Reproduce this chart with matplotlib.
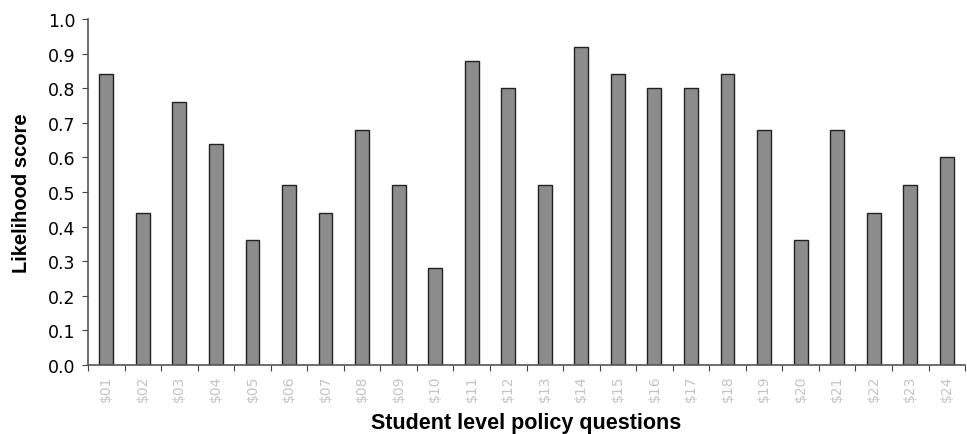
import matplotlib.pyplot as plt
import numpy as np

questions = ['$01', '$02', '$03', '$04', '$05', '$06', '$07', '$08', '$09', '$10', '$11', '$12',
             '$13', '$14', '$15', '$16', '$17', '$18', '$19', '$20', '$21', '$22', '$23', '$24']
scores = [0.84, 0.44, 0.76, 0.64, 0.36, 0.52, 0.44, 0.68, 0.52, 0.28, 0.88, 0.80,
          0.52, 0.92, 0.84, 0.80, 0.80, 0.84, 0.68, 0.36, 0.68, 0.44, 0.52, 0.60]
yticks = [0.0, 0.1, 0.2, 0.3, 0.4, 0.5, 0.6, 0.7, 0.8, 0.9, 1.0]

fig = plt.figure(figsize=(9.67, 4.35), dpi=100)
ax = fig.add_axes([0.091, 0.159, 0.907, 0.795])

x = np.arange(len(questions))
ax.bar(x, scores, width=0.38, color='#8c8c8c', edgecolor='#222222', linewidth=1.0)

ax.set_xlim(-0.5, len(questions) - 0.5)
ax.set_ylim(0, 1.0)
ax.set_yticks(yticks)
ax.set_yticklabels([f'{v:.1f}' for v in yticks], fontsize=12.5, family='DejaVu Sans')

# category ticks sit between bars, labels at bar centres
ax.set_xticks(np.arange(-0.5, len(questions)), minor=False)
ax.set_xticklabels([])
ax.set_xticks(x, minor=True)
ax.set_xticklabels(questions, minor=True, rotation=90, fontsize=10, color='#c4c4c4')
ax.tick_params(axis='x', which='minor', length=0, pad=7)
ax.tick_params(axis='x', which='major', length=4, direction='out', color='#444444')
ax.tick_params(axis='y', length=4, direction='out', color='#444444', pad=5)

for s in ['top', 'right']:
    ax.spines[s].set_visible(False)
for s in ['left', 'bottom']:
    ax.spines[s].set_color('#555555')
    ax.spines[s].set_linewidth(1.2)

ax.set_ylabel('Likelihood score', fontsize=14.5, fontweight='bold', family='Liberation Sans', labelpad=12)
fig.text(0.544, 0.014, 'Student level policy questions', fontsize=15.5, fontweight='bold',
         family='Liberation Sans', ha='center', va='baseline')

fig.savefig('out.png', dpi=100)
